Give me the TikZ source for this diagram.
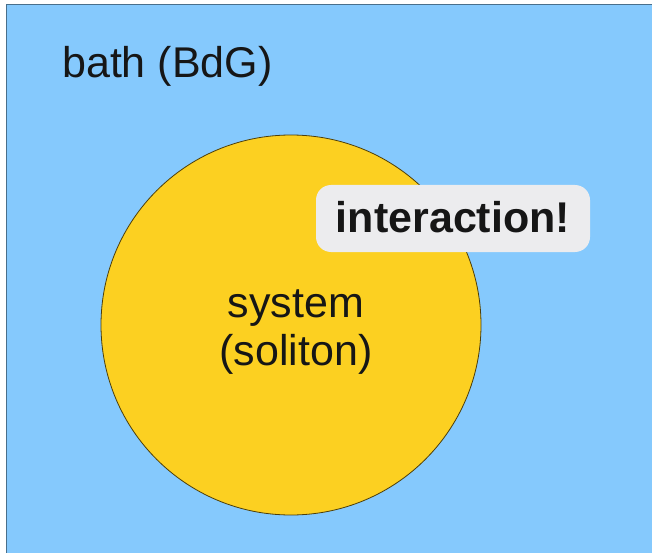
\documentclass[tikz,border=0pt]{standalone}
\usepackage{fontspec}
\setmainfont{Liberation Sans}
\definecolor{bathblue}{RGB}{133,201,253}
\definecolor{solitonyellow}{RGB}{252,208,33}
\definecolor{labelgray}{RGB}{236,236,238}
\definecolor{textblack}{RGB}{22,22,22}
\begin{document}
\begin{tikzpicture}[x = 1pt, y = -1pt,
        label text/.style = {text = textblack, font = \fontsize{43}{48}\selectfont, inner sep = 0pt},
        tag box/.style = {fill = labelgray, rounded corners = 15pt, minimum width = 274pt, minimum height = 67pt, inner sep = 0pt}]
        \useasboundingbox (0, 0) rectangle (652, 553);
        \fill[white] (0, 0) rectangle (652, 553);
        \draw[fill = bathblue, draw = black!45!bathblue, line width = 1pt] (6, 5) rectangle (660, 560);
        \node[circle, fill = solitonyellow, draw = black!70!solitonyellow, line width = 0.8pt, minimum size = 380pt, inner sep = 0pt] (soliton) at (291, 325) {};
        \node[label text, anchor = base west] (bath) at (62, 78) {bath (BdG)};
        \node[label text, anchor = base, align = center] (system) at (296, 365) {system\\(soliton)};
        \node[tag box] (tag) at (453, 218.5) {};
        \node[label text, font = \fontsize{43}{48}\selectfont\bfseries, anchor = base] (interaction) at (tag.center |- 0, 233) {interaction!};
    \end{tikzpicture}
\end{document}
